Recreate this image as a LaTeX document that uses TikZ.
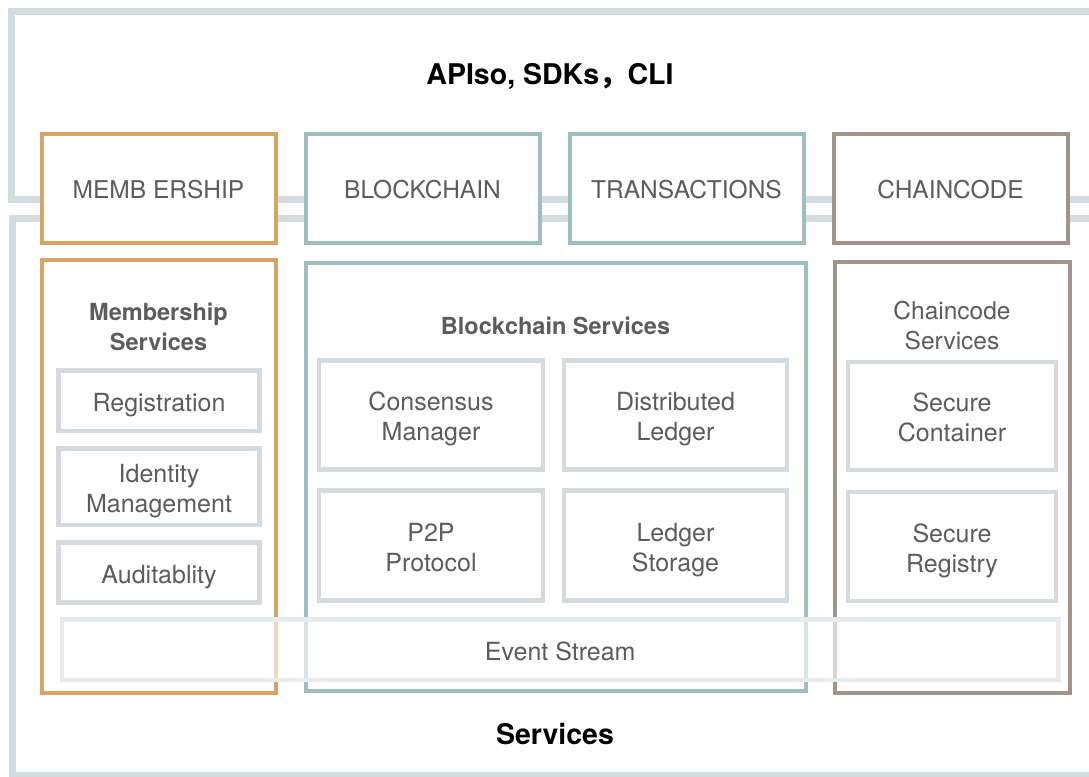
\documentclass[tikz,border=0pt]{standalone}
\usepackage{fontspec}
\setmainfont{TeX Gyre Heros}
\newfontfamily\cjk{Noto Sans CJK SC}
\usepackage{tikz}

\definecolor{frameGray}{HTML}{D3DCE1}
\definecolor{memberOrange}{HTML}{D9A463}
\definecolor{chainTeal}{HTML}{9FBEBF}
\definecolor{codeBrown}{HTML}{A39288}
\definecolor{innerGray}{HTML}{D4DADD}
\definecolor{eventGray}{HTML}{E7EBED}
\definecolor{textGray}{HTML}{5C5C5C}

\begin{document}
\begin{tikzpicture}[x=1pt,y=-1pt,%%
  frameStyle/.style={draw=frameGray,line width=7pt},%%
  oneLine/.style={text height=21.6pt,text depth=0pt},%%
  twoLine/.style={text height=51.6pt,text depth=0pt},%%
  headStyle/.style={draw,fill=white,line width=4pt,minimum width=234pt,%%
    minimum height=109pt,text=textGray,oneLine,font=\fontsize{24.5}{30}\selectfont},%%
  colStyle/.style={draw,fill=white,line width=4pt},%%
  innerStyle/.style={draw=innerGray,fill=white,line width=4.5pt,align=center,%%
    text=textGray,font=\fontsize{25}{30}\selectfont},%%
  titleStyle/.style={align=center,text=textGray,font=\fontsize{23.5}{30}\selectfont},%%
  bigTitleStyle/.style={text=black,font=\bfseries\fontsize{28.5}{32}\selectfont}%%
]
%%
\useasboundingbox (0,0) rectangle (1089,776);
\clip (0,0) rectangle (1089,776);
%%
%% The two outer frames.
\draw[frameStyle] (11,11.5) rectangle (1092,199);
\draw[frameStyle] (12,218.5) rectangle (1100,775.5);
%%
\node[bigTitleStyle] (apiTitle) at (550,76.5) {APIso, SDKs{\cjk ，}CLI};
\node[bigTitleStyle] (servicesTitle) at (555,734) {Services};
%%
%% The four headers over the frames.
\node[headStyle,draw=memberOrange] (memberHead) at (158.5,188) {MEMB ERSHIP};
\node[headStyle,draw=chainTeal] (chainHead) at (422.5,188) {BLOCKCHAIN};
\node[headStyle,draw=chainTeal] (transHead) at (686.5,188) {TRANSACTIONS};
\node[headStyle,draw=codeBrown] (codeHead) at (950.5,188) {CHAINCODE};
%%
%% The service columns.
\node[colStyle,draw=memberOrange,minimum width=234pt,minimum height=433pt]
  (memberCol) at (158.5,476.5) {};
\node[colStyle,draw=chainTeal,minimum width=500pt,minimum height=428.5pt]
  (chainCol) at (555.5,476.75) {};
\node[colStyle,draw=codeBrown,minimum width=235pt,minimum height=431pt]
  (codeCol) at (952,477.5) {};
%%
\node[titleStyle,font=\bfseries\fontsize{23.5}{30}\selectfont]
  (memberTitle) at (158.5,326.5) {Membership\\Services};
\node[titleStyle,font=\bfseries\fontsize{23.5}{30}\selectfont]
  (chainTitle) at (555.5,326) {Blockchain Services};
\node[titleStyle,font=\fontsize{24.5}{30}\selectfont]
  (codeTitle) at (952,326) {Chaincode\\Services};
%%
%% Membership services.
\node[innerStyle,oneLine,minimum width=201pt,minimum height=60.5pt]
  (registration) at (159,400.75) {Registration};
\node[innerStyle,twoLine,minimum width=201pt,minimum height=76.5pt]
  (identity) at (159,486.75) {Identity\\Management};
\node[innerStyle,oneLine,minimum width=201pt,minimum height=60pt]
  (audit) at (159,572.5) {Auditablity};
%%
%% Blockchain services.
\node[innerStyle,twoLine,minimum width=224pt,minimum height=109pt]
  (consensus) at (431,415) {Consensus\\Manager};
\node[innerStyle,twoLine,minimum width=223pt,minimum height=109pt]
  (distLedger) at (675.5,415) {Distributed\\Ledger};
\node[innerStyle,twoLine,minimum width=224pt,minimum height=110pt]
  (p2p) at (431,545.5) {P2P\\Protocol};
\node[innerStyle,twoLine,minimum width=223pt,minimum height=110pt]
  (storage) at (675.5,545.5) {Ledger\\Storage};
%%
%% Chaincode services.
\node[innerStyle,twoLine,minimum width=208pt,minimum height=108pt]
  (container) at (952,416) {Secure\\Container};
\node[innerStyle,twoLine,minimum width=208pt,minimum height=109pt]
  (registry) at (952,546.5) {Secure\\Registry};
%%
%% The event stream across all columns.
\node[draw=eventGray,fill=white,fill opacity=0.6,text opacity=1,line width=4.5pt,
  minimum width=996.5pt,minimum height=60.5pt,text=textGray,oneLine,
  font=\fontsize{25}{30}\selectfont] (eventStream) at (560.25,649.75) {Event Stream};
\end{tikzpicture}
\end{document}
